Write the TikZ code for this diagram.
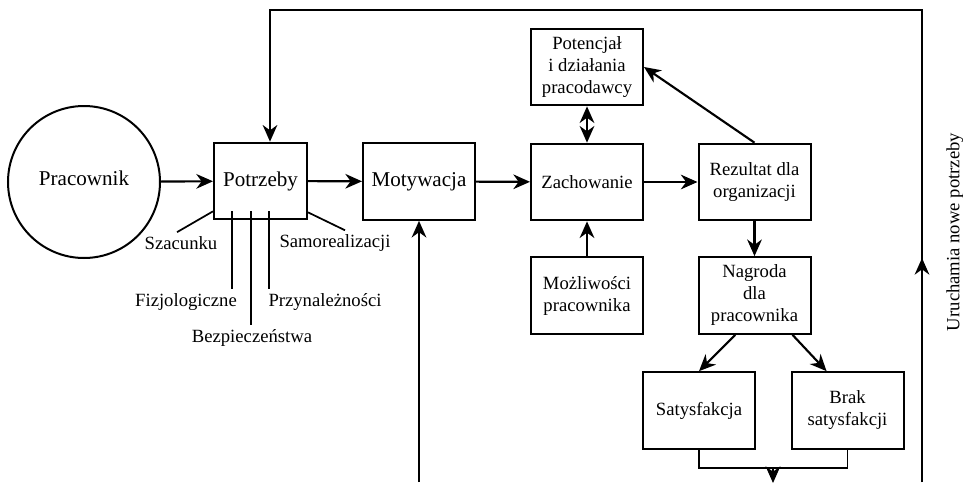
\documentclass[tikz,border=0pt]{standalone}
\usepackage{fontspec}
\setmainfont{Liberation Serif}
\usetikzlibrary{arrows.meta,positioning,calc}

\begin{document}
\begin{tikzpicture}[x=0.75pt,y=-0.75pt,>={Stealth[length=12.5pt,width=11pt,inset=4pt]},
  blok/.style={draw,line width=1.5pt,minimum width=84pt,minimum height=57.5pt,inner sep=2pt,align=center,font=\fontsize{14}{16.5}\selectfont},
  duzy/.style={font=\fontsize{15.8}{18}\selectfont},
  strz/.style={->,line width=1.6pt},
  galaz/.style={line width=1.3pt},
  etyk/.style={font=\fontsize{14}{16.5}\selectfont,inner sep=3pt}]
\useasboundingbox (0,0) rectangle (963,482);
\node[draw,circle,line width=1.5pt,minimum size=114pt,inner sep=0pt,duzy] (prac) at (84,182) {\raisebox{5.25pt}{Pracownik}};
\node[blok,duzy,minimum width=69.75pt] (potrz) at (260.5,181) {Potrzeby};
\node[blok,duzy] (motyw) at (419,181.5) {\raisebox{-6.5pt}{Motywacja}};
\node[blok] (zach) at (587,182) {Zachowanie};
\node[blok] (potenc) at (587,67) {Potencjał\\i działania\\pracodawcy};
\node[blok] (mozl) at (587,295.5) {Możliwości\\pracownika};
\node[blok] (rezult) at (754.5,182) {Rezultat dla\\organizacji};
\node[blok] (nagr) at (754.5,295.5) {Nagroda\\dla\\pracownika};
\node[blok] (satysf) at (699,410.5) {Satysfakcja};
\node[blok] (brak) at (847.5,410.5) {Brak\\satysfakcji};
\node[etyk,rotate=90] (uruch) at (955,232) {Uruchamia nowe potrzeby};

\node[etyk] (szac) at (181,243) {Szacunku};
\node[etyk] (samo) at (335,243) {Samorealizacji};
\node[etyk] (fizj) at (186,302) {Fizjologiczne};
\node[etyk] (przyn) at (325,302) {Przynależności};
\node[etyk] (bezp) at (252,338) {Bezpieczeństwa};

\draw[strz] (prac) -- (potrz);
\draw[strz] (potrz) -- (motyw);
\draw[strz] (motyw) -- (zach);
\draw[strz] (zach) -- (rezult);
\draw[strz,<->] (potenc) -- (zach);
\draw[strz] (mozl) -- (zach);
\draw[strz] (rezult.north) -- (potenc.east);
\draw[strz] (rezult) -- (nagr);
\draw[strz] (nagr.-116) -- (satysf.north);
\draw[strz] (nagr.-46) -- (brak.118);

\draw[galaz] ($(potrz.south west)+(0,-9)$) -- ($(szac.north)+(-4,0)$);
\draw[galaz] ($(potrz.south east)+(0,-8)$) -- ($(samo.north)+(10,0)$);
\draw[galaz] ($(potrz.south west)+(19,-9)$) coordinate (f0) -- (f0 |- fizj.north);
\draw[galaz] ($(potrz.south west)+(38,-9)$) coordinate (b0) -- (b0 |- bezp.north);
\draw[galaz] ($(potrz.south west)+(56,-9)$) coordinate (p0) -- (p0 |- przyn.north);

\coordinate (pd) at (922,482);
\coordinate (ps) at (922,258);
\coordinate (pg) at (270,10);
\draw[->,line width=1.3pt] (pd) |- (pg) -- (pg |- potrz.north);
\draw[->,line width=1.3pt] (pd) -- (ps);

\coordinate (md) at (419,482);
\draw[strz] (md) -- (motyw);

\coordinate (zb) at (773,468);
\coordinate (zd) at (773,483);
\draw[line width=0.8pt] (satysf.south) |- (zb) -| (brak.south);
\draw[strz] (zb) -- (zd);
\end{tikzpicture}
\end{document}
